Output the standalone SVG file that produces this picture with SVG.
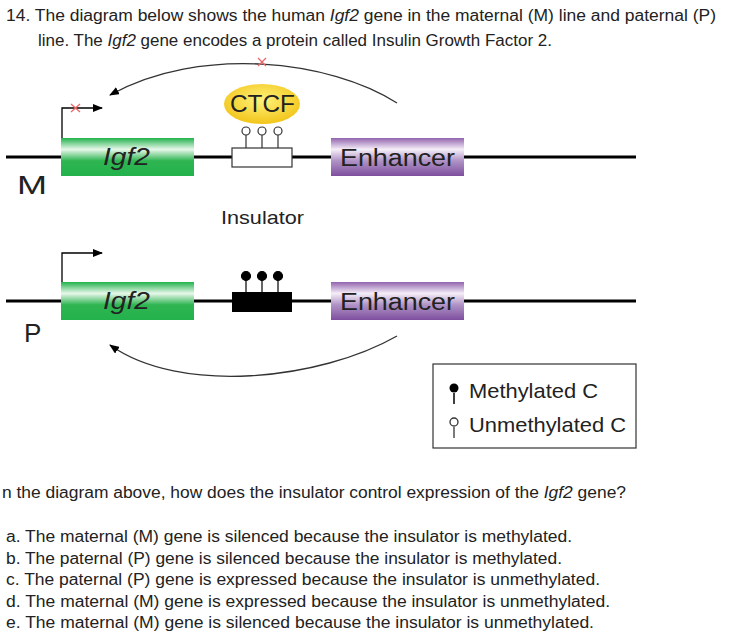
<svg xmlns="http://www.w3.org/2000/svg" width="732" height="644" viewBox="0 0 732 644">
<style>
text{font-family:"Liberation Sans",Arial,sans-serif;fill:#222}
.q{font-size:16px}
.box{font-size:23px;fill:#222}
.dna{stroke:#000;stroke-width:3;fill:none}
.arc{stroke:#333;stroke-width:1.3;fill:none}
.x{stroke:#e66;stroke-width:1.3}
</style>
<defs>
<linearGradient id="g" x1="0" y1="0" x2="0" y2="1"><stop offset="0" stop-color="#22b24c"/><stop offset="0.3" stop-color="#e8f7ea"/><stop offset="0.6" stop-color="#2fb552"/><stop offset="1" stop-color="#22b24c"/></linearGradient>
<linearGradient id="p" x1="0" y1="0" x2="0" y2="1"><stop offset="0" stop-color="#9164ae"/><stop offset="0.3" stop-color="#f5eef8"/><stop offset="0.6" stop-color="#b093c6"/><stop offset="1" stop-color="#7e4e9e"/></linearGradient>
<radialGradient id="y" cx="0.5" cy="0.4" r="0.6"><stop offset="0" stop-color="#fff27a"/><stop offset="1" stop-color="#f2c51a"/></radialGradient>
<marker id="a" markerWidth="10" markerHeight="8" refX="9" refY="4" orient="auto" markerUnits="userSpaceOnUse"><path d="M0,0L10,4L0,8z" fill="#000"/></marker>
</defs>
<text class="q" x="6" y="21" textLength="710" lengthAdjust="spacingAndGlyphs">14. The diagram below shows the human <tspan font-style="italic">Igf2</tspan> gene in the maternal (M) line and paternal (P)</text>
<text class="q" x="38" y="46" textLength="514" lengthAdjust="spacingAndGlyphs">line. The <tspan font-style="italic">Igf2</tspan> gene encodes a protein called Insulin Growth Factor 2.</text>
<g id="connectors">
<path class="arc" d="M397,103 C330,60 200,45 110,95" marker-end="url(#a)"/>
<path class="x" d="M258,58L266,66M266,58L258,66"/>
<path class="arc" d="M397,336 C320,380 180,395 110,345" marker-end="url(#a)"/>
</g>
<g id="maternal">
<line class="dna" x1="6" y1="157" x2="636" y2="157"/>
<path d="M62,138V108H102" stroke="#000" stroke-width="1.3" fill="none" marker-end="url(#a)"/>
<path class="x" d="M71,104L80,112M80,104L71,112"/>
<rect x="61" y="138" width="133" height="38" fill="url(#g)"/>
<text class="box" x="103" y="165" font-style="italic" textLength="47" lengthAdjust="spacingAndGlyphs">Igf2</text>
<rect x="232" y="148" width="60" height="19" fill="#fff" stroke="#333" stroke-width="1.2"/>
<g stroke="#333" stroke-width="1.2" fill="#fff"><path d="M246,148V135M262,148V135M278,148V135"/><circle cx="246" cy="131" r="4"/><circle cx="262" cy="131" r="4"/><circle cx="278" cy="131" r="4"/></g>
<ellipse cx="262" cy="104" rx="38" ry="20" fill="url(#y)"/>
<text class="box" x="230" y="112" textLength="65" lengthAdjust="spacingAndGlyphs">CTCF</text>
<rect x="331" y="138" width="133" height="38" fill="url(#p)"/>
<text class="box" x="340" y="166" font-size="25" textLength="115" lengthAdjust="spacingAndGlyphs">Enhancer</text>
<text x="17" y="194" font-size="26" textLength="30" lengthAdjust="spacingAndGlyphs">M</text>
</g>
<text x="221" y="224" font-size="19" textLength="83" lengthAdjust="spacingAndGlyphs">Insulator</text>
<g id="paternal">
<line class="dna" x1="6" y1="301" x2="636" y2="301"/>
<path d="M62,282V253H102" stroke="#000" stroke-width="1.3" fill="none" marker-end="url(#a)"/>
<rect x="61" y="282" width="133" height="38" fill="url(#g)"/>
<text class="box" x="103" y="309" font-style="italic" textLength="47" lengthAdjust="spacingAndGlyphs">Igf2</text>
<rect x="232" y="292" width="60" height="20" fill="#000"/>
<g stroke="#000" stroke-width="1.2" fill="#000"><path d="M246,292V279M262,292V279M278,292V279"/><circle cx="246" cy="276" r="4.5"/><circle cx="262" cy="276" r="4.5"/><circle cx="278" cy="276" r="4.5"/></g>
<rect x="331" y="282" width="133" height="38" fill="url(#p)"/>
<text class="box" x="340" y="310" font-size="25" textLength="115" lengthAdjust="spacingAndGlyphs">Enhancer</text>
<text x="24" y="342" font-size="26">P</text>
</g>
<g id="legend">
<rect x="433" y="364" width="203" height="84" fill="#fff" stroke="#333" stroke-width="1.2"/>
<path d="M454,393V404" stroke="#000" stroke-width="1.5"/><circle cx="454" cy="388" r="4.5" fill="#000"/>
<path d="M454,427V438" stroke="#333" stroke-width="1.3"/><circle cx="454" cy="422" r="4" fill="#fff" stroke="#333" stroke-width="1.3"/>
<text x="469" y="398" font-size="21" textLength="129" lengthAdjust="spacingAndGlyphs">Methylated C</text>
<text x="469" y="432" font-size="21" textLength="157" lengthAdjust="spacingAndGlyphs">Unmethylated C</text>
</g>
<text class="q" x="2" y="498" textLength="624" lengthAdjust="spacingAndGlyphs">n the diagram above, how does the insulator control expression of the <tspan font-style="italic">Igf2</tspan> gene?</text>
<text class="q" x="6" y="542" textLength="566" lengthAdjust="spacingAndGlyphs">a. The maternal (M) gene is silenced because the insulator is methylated.</text>
<text class="q" x="6" y="564" textLength="556" lengthAdjust="spacingAndGlyphs">b. The paternal (P) gene is silenced because the insulator is methylated.</text>
<text class="q" x="6" y="585" textLength="594" lengthAdjust="spacingAndGlyphs">c.  The paternal (P) gene is expressed because the insulator is unmethylated.</text>
<text class="q" x="6" y="607" textLength="604" lengthAdjust="spacingAndGlyphs">d.  The maternal (M) gene is expressed because the insulator is unmethylated.</text>
<text class="q" x="6" y="628" textLength="588" lengthAdjust="spacingAndGlyphs">e.  The maternal (M) gene is silenced because the insulator is unmethylated.</text>
</svg>
